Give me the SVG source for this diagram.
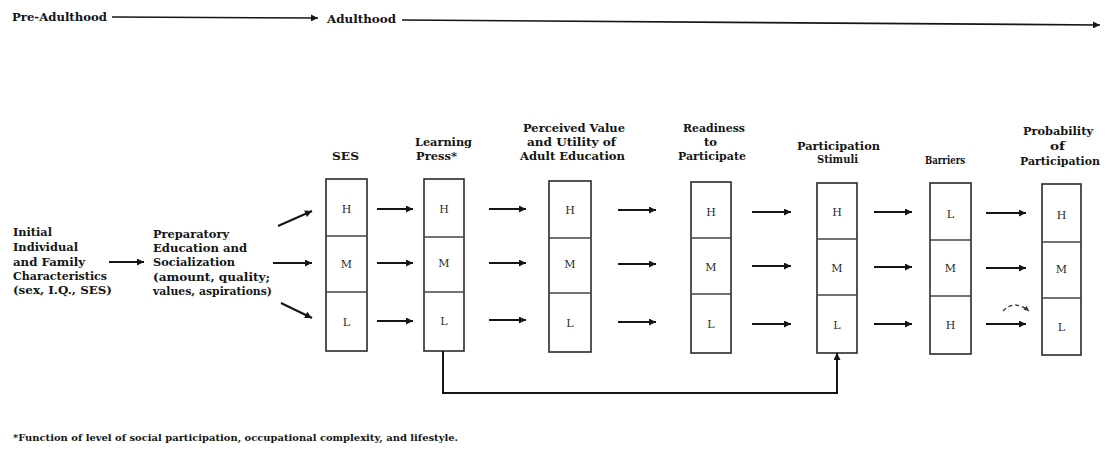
<svg xmlns="http://www.w3.org/2000/svg" width="1106" height="450" viewBox="0 0 1106 450">
<defs>
<style>
.t{font-family:"DejaVu Serif","Liberation Serif",serif;font-weight:bold;fill:#151515}
.h{font-size:11px;text-anchor:middle}
.b{font-size:11.5px}
.c{font-family:"DejaVu Serif","Liberation Serif",serif;font-size:11px;fill:#2a2a2a;text-anchor:middle}
.box{fill:#fff;stroke:#2a2a2a;stroke-width:1.6}
.div{stroke:#444;stroke-width:1.3}
.ar{fill:none;stroke:#151515;stroke-width:2;marker-end:url(#ah)}
.tl{fill:none;stroke:#151515;stroke-width:1.6;marker-end:url(#ah)}
</style>
<marker id="ah" viewBox="0 0 10 10" refX="10" refY="5" markerUnits="userSpaceOnUse" markerWidth="10" markerHeight="7" orient="auto">
<path d="M0,0 L10,5 L0,10 z" fill="#151515"/>
</marker>
<marker id="ahs" viewBox="0 0 10 10" refX="10" refY="5" markerUnits="userSpaceOnUse" markerWidth="6" markerHeight="5" orient="auto">
<path d="M0,0 L10,5 L0,10 z" fill="#333"/>
</marker>
</defs>
<rect width="1106" height="450" fill="#fff"/>

<g id="timeline">
<text class="t" x="12" y="21" font-size="11.5" textLength="95" lengthAdjust="spacingAndGlyphs">Pre-Adulthood</text>
<text class="t" x="327" y="23" font-size="11.5" textLength="69" lengthAdjust="spacingAndGlyphs">Adulthood</text>
</g>

<g id="n-initial">
<text class="t b" x="13" y="236" textLength="39" lengthAdjust="spacingAndGlyphs">Initial</text>
<text class="t b" x="13" y="251" textLength="65" lengthAdjust="spacingAndGlyphs">Individual</text>
<text class="t b" x="13" y="266" textLength="72" lengthAdjust="spacingAndGlyphs">and Family</text>
<text class="t b" x="13" y="280" textLength="94" lengthAdjust="spacingAndGlyphs">Characteristics</text>
<text class="t b" x="13" y="294" textLength="99" lengthAdjust="spacingAndGlyphs">(sex, I.Q., SES)</text>
</g>

<g id="n-prep">
<text class="t b" x="153" y="238" textLength="76" lengthAdjust="spacingAndGlyphs">Preparatory</text>
<text class="t b" x="153" y="252" textLength="94" lengthAdjust="spacingAndGlyphs">Education and</text>
<text class="t b" x="153" y="266" textLength="82" lengthAdjust="spacingAndGlyphs">Socialization</text>
<text class="t b" x="153" y="281" textLength="117" lengthAdjust="spacingAndGlyphs">(amount, quality;</text>
<text class="t b" x="153" y="295" textLength="119" lengthAdjust="spacingAndGlyphs">values, aspirations)</text>
</g>

<g id="n-ses">
<text class="t h" x="345.5" y="160" textLength="27" lengthAdjust="spacingAndGlyphs">SES</text>
<rect class="box" x="326" y="179" width="41" height="172"/>
<line class="div" x1="326" y1="236" x2="367" y2="236"/>
<line class="div" x1="326" y1="292" x2="367" y2="292"/>
<text class="c" x="346.5" y="213">H</text>
<text class="c" x="346.5" y="268">M</text>
<text class="c" x="346.5" y="326">L</text>
</g>

<g id="n-learning">
<text class="t h" x="443.5" y="146" textLength="57" lengthAdjust="spacingAndGlyphs">Learning</text>
<text class="t" x="416" y="160" font-size="11" textLength="41" lengthAdjust="spacingAndGlyphs">Press*</text>
<rect class="box" x="424" y="179" width="40" height="172"/>
<line class="div" x1="424" y1="237" x2="464" y2="237"/>
<line class="div" x1="424" y1="292" x2="464" y2="292"/>
<text class="c" x="444" y="213">H</text>
<text class="c" x="444" y="267">M</text>
<text class="c" x="444" y="325">L</text>
</g>

<g id="n-perceived">
<text class="t h" x="574" y="132" textLength="102" lengthAdjust="spacingAndGlyphs">Perceived Value</text>
<text class="t h" x="571.5" y="146" textLength="89" lengthAdjust="spacingAndGlyphs">and Utility of</text>
<text class="t h" x="572.5" y="160" textLength="105" lengthAdjust="spacingAndGlyphs">Adult Education</text>
<rect class="box" x="549" y="181" width="42" height="171"/>
<line class="div" x1="549" y1="238" x2="591" y2="238"/>
<line class="div" x1="549" y1="293" x2="591" y2="293"/>
<text class="c" x="570" y="214">H</text>
<text class="c" x="570" y="268">M</text>
<text class="c" x="570" y="327">L</text>
</g>

<g id="n-readiness">
<text class="t h" x="714" y="132" textLength="62" lengthAdjust="spacingAndGlyphs">Readiness</text>
<text class="t h" x="710.5" y="146" textLength="13" lengthAdjust="spacingAndGlyphs">to</text>
<text class="t h" x="712" y="160" textLength="68" lengthAdjust="spacingAndGlyphs">Participate</text>
<rect class="box" x="691" y="182" width="40" height="171"/>
<line class="div" x1="691" y1="238" x2="731" y2="238"/>
<line class="div" x1="691" y1="294" x2="731" y2="294"/>
<text class="c" x="711" y="216">H</text>
<text class="c" x="711" y="271">M</text>
<text class="c" x="711" y="328">L</text>
</g>

<g id="n-stimuli">
<text class="t h" x="838.5" y="150" textLength="83" lengthAdjust="spacingAndGlyphs">Participation</text>
<text class="t h" x="837.5" y="163" textLength="41" lengthAdjust="spacingAndGlyphs">Stimuli</text>
<rect class="box" x="817" y="183" width="40" height="170"/>
<line class="div" x1="817" y1="239" x2="857" y2="239"/>
<line class="div" x1="817" y1="295" x2="857" y2="295"/>
<text class="c" x="837" y="216">H</text>
<text class="c" x="837" y="272">M</text>
<text class="c" x="837" y="329">L</text>
</g>

<g id="n-barriers">
<text class="t h" x="945" y="164" textLength="40" lengthAdjust="spacingAndGlyphs">Barriers</text>
<rect class="box" x="930" y="183" width="41" height="171"/>
<line class="div" x1="930" y1="240" x2="971" y2="240"/>
<line class="div" x1="930" y1="296" x2="971" y2="296"/>
<text class="c" x="950.5" y="218">L</text>
<text class="c" x="950.5" y="272">M</text>
<text class="c" x="950.5" y="329">H</text>
</g>

<g id="n-probability">
<text class="t h" x="1058" y="135" textLength="70" lengthAdjust="spacingAndGlyphs">Probability</text>
<text class="t h" x="1057.5" y="150" textLength="15" lengthAdjust="spacingAndGlyphs">of</text>
<text class="t h" x="1060" y="165" textLength="80" lengthAdjust="spacingAndGlyphs">Participation</text>
<rect class="box" x="1042" y="184" width="39" height="171"/>
<line class="div" x1="1042" y1="242" x2="1081" y2="242"/>
<line class="div" x1="1042" y1="298" x2="1081" y2="298"/>
<text class="c" x="1061.5" y="219">H</text>
<text class="c" x="1061.5" y="273">M</text>
<text class="c" x="1061.5" y="331">L</text>
</g>

<g id="connectors">
<line class="tl" x1="112" y1="17" x2="318" y2="18"/>
<line class="tl" x1="402" y1="20" x2="1100" y2="25"/>
<line class="ar" x1="109" y1="262" x2="144" y2="262"/>
<line class="ar" x1="278" y1="226" x2="312" y2="211"/>
<line class="ar" x1="273" y1="263" x2="312" y2="263"/>
<line class="ar" x1="281" y1="303" x2="312" y2="318"/>
<line class="ar" x1="377" y1="209" x2="413" y2="209"/>
<line class="ar" x1="377" y1="263" x2="413" y2="263"/>
<line class="ar" x1="377" y1="321" x2="413" y2="321"/>
<line class="ar" x1="489" y1="209" x2="526" y2="209"/>
<line class="ar" x1="489" y1="263" x2="526" y2="263"/>
<line class="ar" x1="489" y1="320" x2="526" y2="320"/>
<line class="ar" x1="618" y1="210" x2="656" y2="210"/>
<line class="ar" x1="618" y1="264" x2="656" y2="264"/>
<line class="ar" x1="618" y1="322" x2="656" y2="322"/>
<line class="ar" x1="752" y1="212" x2="791" y2="212"/>
<line class="ar" x1="752" y1="266" x2="791" y2="266"/>
<line class="ar" x1="752" y1="324" x2="791" y2="324"/>
<line class="ar" x1="874" y1="212" x2="912" y2="212"/>
<line class="ar" x1="874" y1="267" x2="912" y2="267"/>
<line class="ar" x1="874" y1="324" x2="912" y2="324"/>
<line class="ar" x1="986" y1="213" x2="1026" y2="213"/>
<line class="ar" x1="986" y1="268" x2="1026" y2="268"/>
<line class="ar" x1="986" y1="324" x2="1026" y2="324"/>
<path d="M1003,311 Q1014,299 1029,311" fill="none" stroke="#333" stroke-width="1.3" stroke-dasharray="4,3" marker-end="url(#ahs)"/>
<path class="ar" d="M443,351 V393 H837 V353"/>
</g>

<g id="footnote">
<text class="t" x="13" y="441" font-size="8.5" textLength="445" lengthAdjust="spacingAndGlyphs">*Function of level of social participation, occupational complexity, and lifestyle.</text>
</g>
</svg>
